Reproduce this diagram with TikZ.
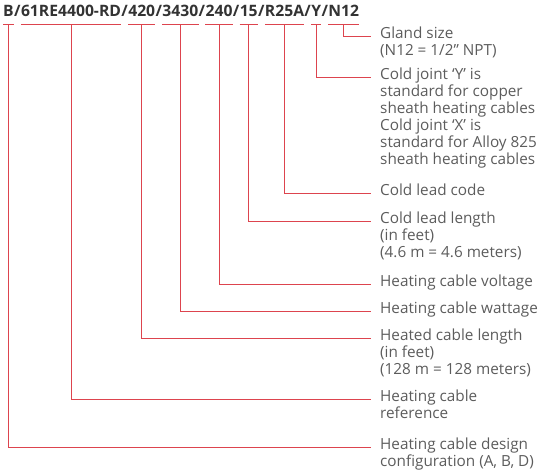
\documentclass[tikz,border=0pt]{standalone}
\usepackage{fontspec}
\setmainfont{Open Sans}
\definecolor{leadred}{RGB}{221,68,78}
\definecolor{codegray}{RGB}{51,51,51}
\definecolor{textgray}{RGB}{92,92,92}
\newcommand{\lines}[1]{\begin{tabular}[t]{@{}l@{}}#1\end{tabular}}
\begin{document}
\begin{tikzpicture}[x=1pt, y=-1pt,
    codepart/.style={font=\bfseries\fontsize{15.7}{18}\selectfont, text=codegray, anchor=base west, inner xsep=0pt, inner ysep=7.5pt, text depth=0pt},
    legend/.style={font=\fontsize{15.3}{17}\selectfont, text=textgray, anchor=mid west, inner xsep=9pt, inner ysep=0pt},
    lead/.style={draw=leadred, line width=1pt}
]
    \useasboundingbox (0,0) rectangle (543,474);

    % Ordering code
    \node[codepart] (cfg) at (3,16.5) {B};
    \node[codepart] (s1) at (cfg.base east) {/};
    \node[codepart] (ref) at (s1.base east) {61RE4400-RD};
    \node[codepart] (s2) at (ref.base east) {/};
    \node[codepart] (hlen) at (s2.base east) {420};
    \node[codepart] (s3) at (hlen.base east) {/};
    \node[codepart] (watt) at (s3.base east) {3430};
    \node[codepart] (s4) at (watt.base east) {/};
    \node[codepart] (volt) at (s4.base east) {240};
    \node[codepart] (s5) at (volt.base east) {/};
    \node[codepart] (clen) at (s5.base east) {15};
    \node[codepart] (s6) at (clen.base east) {/};
    \node[codepart] (ccode) at (s6.base east) {R25A};
    \node[codepart] (s7) at (ccode.base east) {/};
    \node[codepart] (joint) at (s7.base east) {Y};
    \node[codepart] (s8) at (joint.base east) {/};
    \node[codepart] (gland) at (s8.base east) {N12};

    % Explanations
    \node[legend] (lgland) at (371,36) {\lines{Gland size\\(N12 = 1/2" NPT)}};
    \node[legend] (ljoint) at (371,77) {\lines{Cold joint ‘Y’ is\\standard for copper\\sheath heating cables\\Cold joint ‘X’ is\\standard for Alloy 825\\sheath heating cables}};
    \node[legend] (lccode) at (371,193) {Cold lead code};
    \node[legend] (lclen) at (371,221) {\lines{Cold lead length\\(in feet)\\(4.6 m = 4.6 meters)}};
    \node[legend] (lvolt) at (371,284) {Heating cable voltage};
    \node[legend] (lwatt) at (371,311) {Heating cable wattage};
    \node[legend] (lhlen) at (371,338) {\lines{Heated cable length\\(in feet)\\(128 m = 128 meters)}};
    \node[legend] (lref) at (371,399) {\lines{Heating cable\\reference}};
    \node[legend] (lcfg) at (371,447) {\lines{Heating cable design\\configuration (A, B, D)}};

    % Leader lines
    \foreach \c in {cfg,ref,hlen,watt,volt,clen,ccode,joint,gland} \draw[lead] (\c.south west) -- (\c.south east);
    \foreach \c in {cfg,ref,hlen,watt,volt,clen,ccode,joint,gland} \draw[lead] (\c.south) |- (l\c.mid west);
\end{tikzpicture}
\end{document}
